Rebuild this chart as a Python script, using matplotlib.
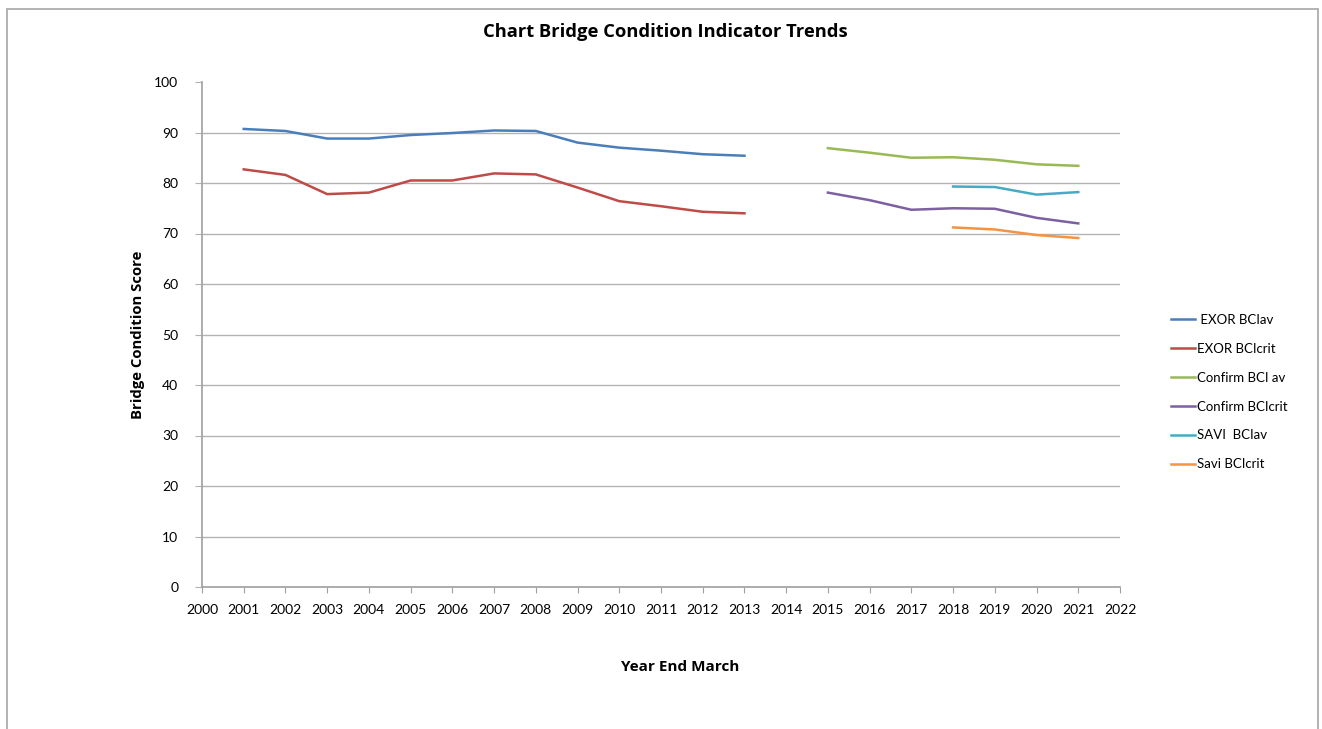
import numpy as np
import matplotlib
matplotlib.use("Agg")
import matplotlib.pyplot as plt
from matplotlib.patches import Rectangle

plt.rcParams['font.family'] = ['Lato', 'DejaVu Sans']

# yearly scores per source system
exor_years = [2001, 2002, 2003, 2004, 2005, 2006, 2007, 2008, 2009, 2010, 2011, 2012, 2013]
exor_bciav = [90.7, 90.3, 88.8, 88.8, 89.5, 89.9, 90.4, 90.3, 88.0, 87.0, 86.4, 85.7, 85.4]
exor_bcicrit = [82.7, 81.6, 77.8, 78.1, 80.5, 80.5, 81.9, 81.7, 79.1, 76.4, 75.4, 74.3, 74.0]

confirm_years = [2015, 2016, 2017, 2018, 2019, 2020, 2021]
confirm_bciav = [86.9, 86.0, 85.0, 85.1, 84.6, 83.7, 83.4]
confirm_bcicrit = [78.1, 76.6, 74.7, 75.0, 74.9, 73.1, 72.0]

savi_years = [2018, 2019, 2020, 2021]
savi_bciav = [79.3, 79.2, 77.7, 78.2]
savi_bcicrit = [71.2, 70.8, 69.7, 69.1]

year_ticks = list(range(2000, 2023))
score_ticks = list(range(0, 101, 10))

W, H = 1322, 729
fig = plt.figure(figsize=(W / 100, H / 100), dpi=100)
fig.patch.set_facecolor('white')

# thin grey frame round the chart area
fig.patches.append(Rectangle((7 / W, 1 - 740 / H), 1311 / W, 731 / H,
                             transform=fig.transFigure, fill=False,
                             edgecolor='#a6a6a6', linewidth=1.2))

ax = fig.add_axes([202 / W, 1 - 587 / H, 918 / W, 505 / H])

series = [
    (exor_years, exor_bciav, '#4a7ebb', ' EXOR BCIav'),
    (exor_years, exor_bcicrit, '#be4b48', 'EXOR BCIcrit'),
    (confirm_years, confirm_bciav, '#98b954', 'Confirm BCI av'),
    (confirm_years, confirm_bcicrit, '#7d60a0', 'Confirm BCIcrit'),
    (savi_years, savi_bciav, '#46aac5', 'SAVI  BCIav'),
    (savi_years, savi_bcicrit, '#f69240', 'Savi BCIcrit'),
]
handles = []
for xs, ys, col, lab in series:
    ln, = ax.plot(xs, ys, color=col, linewidth=1.8, label=lab, zorder=3)
    handles.append(ln)

ax.set_xlim(2000, 2022)
ax.set_ylim(0, 100)
ax.set_xticks(year_ticks)
ax.set_yticks(score_ticks)
ax.tick_params(axis='x', labelsize=10, length=4, color='#a0a0a0', pad=8)
ax.tick_params(axis='y', labelsize=10, length=5, color='#b3b3b3', pad=12)
ax.yaxis.grid(True, color='#b3b3b3', linewidth=1.0)
# no grid line along the top edge
ax.get_ygridlines()[-1].set_visible(False)
ax.set_axisbelow(True)
for s in ['top', 'right']:
    ax.spines[s].set_visible(False)
for s in ['left', 'bottom']:
    ax.spines[s].set_color('#a0a0a0')
    ax.spines[s].set_linewidth(1.2)

ax.set_ylabel('Bridge Condition Score', fontsize=10.7, fontweight='bold',
              family=['Open Sans', 'DejaVu Sans'], labelpad=7)
fig.text(680 / W, 1 - 667 / H, 'Year End March', ha='center', va='center',
         fontsize=11, fontweight='bold', family=['Open Sans', 'DejaVu Sans'])
fig.text(665 / W, 1 - 32 / H, 'Chart Bridge Condition Indicator Trends',
         ha='center', va='center', fontsize=13.2, fontweight='bold',
         family=['Open Sans', 'DejaVu Sans'])

fig.legend(handles=handles, loc='upper left', bbox_to_anchor=(1159 / W, 1 - 302 / H),
           frameon=False, fontsize=9.5, handlelength=1.8, handletextpad=0.2,
           labelspacing=1.28)

fig.savefig('out.png', dpi=100)
